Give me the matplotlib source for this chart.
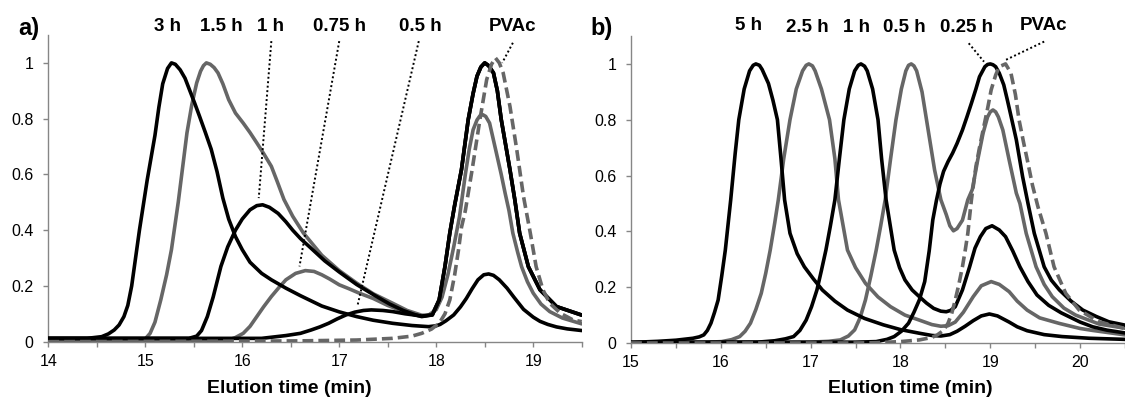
import matplotlib
matplotlib.use("Agg")
import matplotlib.pyplot as plt
from matplotlib.ticker import MultipleLocator, FixedLocator, FixedFormatter

plt.rcParams['font.family'] = ['Liberation Sans', 'DejaVu Sans']

BLACK = '#000000'
GREY = '#666666'
AXCOL = '#868686'
LW = 2.6

# ---------------- panel a) data (elution time in min, normalised signal) ----------------
a_3h_x = [14.0, 14.4, 14.55, 14.62, 14.68, 14.73, 14.78, 14.82, 14.86, 14.9, 14.94, 14.98, 15.02,
          15.06, 15.1, 15.14, 15.18, 15.23, 15.27, 15.31, 15.36, 15.41, 15.46, 15.51, 15.56, 15.62,
          15.68, 15.74, 15.8, 15.86, 15.93, 16.0, 16.08, 16.2, 16.3, 16.45, 16.6, 16.82, 17.0,
          17.18, 17.35, 17.55, 17.75, 17.92, 18.0, 18.04, 18.1, 18.18, 18.25, 18.31, 18.37, 18.43,
          18.49, 18.54, 18.59, 18.65, 18.73, 18.8, 18.9, 19.0, 19.07, 19.15, 19.24, 19.35, 19.5]
a_3h_y = [0.012, 0.012, 0.018, 0.028, 0.042, 0.06, 0.09, 0.13, 0.2, 0.3, 0.4, 0.49, 0.58,
          0.66, 0.74, 0.84, 0.925, 0.98, 1.0, 0.995, 0.975, 0.945, 0.9, 0.855, 0.808, 0.75,
          0.69, 0.61, 0.515, 0.44, 0.377, 0.33, 0.285, 0.245, 0.222, 0.192, 0.165, 0.128, 0.107,
          0.09, 0.077, 0.066, 0.058, 0.054, 0.057, 0.062, 0.075, 0.096, 0.125, 0.155, 0.19, 0.222,
          0.24, 0.243, 0.238, 0.222, 0.192, 0.16, 0.116, 0.088, 0.073, 0.062, 0.053, 0.046, 0.04]

a_15h_x = [14.0, 14.9, 14.95, 15.0, 15.05, 15.1, 15.16, 15.22, 15.27, 15.34, 15.43, 15.48, 15.53,
           15.57, 15.6, 15.63, 15.67, 15.71, 15.75, 15.8, 15.86, 15.93, 16.01, 16.08, 16.15, 16.22,
           16.3, 16.36, 16.43, 16.52, 16.63, 16.82, 17.0, 17.18, 17.35, 17.55, 17.7, 17.85, 17.92,
           18.0, 18.06, 18.12, 18.18, 18.24, 18.3, 18.34, 18.38, 18.42, 18.45, 18.48, 18.51, 18.55,
           18.62, 18.67, 18.71, 18.75, 18.79, 18.84, 18.88, 18.94, 19.0, 19.08, 19.17, 19.3, 19.5]
a_15h_y = [0.003, 0.003, 0.005, 0.01, 0.03, 0.07, 0.15, 0.24, 0.33, 0.5, 0.749, 0.85, 0.928,
           0.97, 0.99, 1.0, 0.995, 0.983, 0.964, 0.925, 0.868, 0.82, 0.784, 0.75, 0.713, 0.675,
           0.629, 0.575, 0.51, 0.45, 0.39, 0.31, 0.255, 0.21, 0.172, 0.138, 0.112, 0.095, 0.095,
           0.115, 0.16, 0.24, 0.34, 0.449, 0.6, 0.69, 0.76, 0.795, 0.81, 0.814, 0.808, 0.784,
           0.677, 0.6, 0.533, 0.47, 0.389, 0.32, 0.269, 0.215, 0.174, 0.135, 0.108, 0.085, 0.064]

a_1h_x = [14.0, 15.45, 15.53, 15.58, 15.64, 15.7, 15.78, 15.85, 15.93, 16.0, 16.08, 16.15, 16.21,
          16.28, 16.37, 16.45, 16.52, 16.6, 16.71, 16.85, 17.0, 17.18, 17.37, 17.52, 17.66, 17.78,
          17.85, 17.96, 18.03, 18.09, 18.14, 18.19, 18.26, 18.33, 18.38, 18.42, 18.46, 18.5, 18.54,
          18.59, 18.63, 18.67, 18.76, 18.81, 18.86, 18.95, 19.07, 19.24, 19.5]
a_1h_y = [0.012, 0.012, 0.02, 0.04, 0.09, 0.16, 0.27, 0.34, 0.4, 0.44, 0.473, 0.488, 0.491,
          0.482, 0.46, 0.43, 0.4, 0.37, 0.335, 0.29, 0.25, 0.205, 0.165, 0.135, 0.112, 0.097,
          0.09, 0.096, 0.15, 0.27, 0.39, 0.49, 0.617, 0.797, 0.89, 0.952, 0.985, 1.0, 0.99,
          0.964, 0.9, 0.797, 0.617, 0.509, 0.389, 0.269, 0.186, 0.126, 0.095]

a_075h_x = [14.0, 15.8, 15.86, 15.93, 16.01, 16.08, 16.15, 16.22, 16.3, 16.38, 16.45, 16.55, 16.65,
            16.74, 16.82, 16.9, 17.0, 17.1, 17.2, 17.35, 17.5, 17.65, 17.78, 17.88, 17.96, 18.03,
            18.09, 18.14, 18.19, 18.26, 18.33, 18.38, 18.42, 18.46, 18.5, 18.54, 18.59, 18.63,
            18.67, 18.76, 18.81, 18.86, 18.95, 19.07, 19.24, 19.5]
a_075h_y = [0.003, 0.003, 0.006, 0.015, 0.03, 0.055, 0.09, 0.125, 0.162, 0.195, 0.222, 0.245, 0.255,
            0.252, 0.24, 0.225, 0.204, 0.19, 0.175, 0.155, 0.13, 0.11, 0.095, 0.092, 0.1, 0.15,
            0.27, 0.39, 0.49, 0.617, 0.797, 0.89, 0.952, 0.985, 1.0, 0.99, 0.964, 0.9,
            0.797, 0.617, 0.509, 0.389, 0.269, 0.186, 0.126, 0.095]

a_05h_x = [14.0, 16.2, 16.3, 16.45, 16.6, 16.71, 16.8, 16.89, 16.98, 17.07, 17.16, 17.25, 17.33,
           17.45, 17.55, 17.68, 17.77, 17.85, 17.96, 18.03, 18.09, 18.14, 18.19, 18.26, 18.33,
           18.38, 18.42, 18.46, 18.5, 18.54, 18.59, 18.63, 18.67, 18.76, 18.81, 18.86, 18.95,
           19.07, 19.24, 19.5]
a_05h_y = [0.012, 0.012, 0.016, 0.022, 0.03, 0.042, 0.053, 0.066, 0.082, 0.096, 0.106, 0.112, 0.114,
           0.112, 0.108, 0.1, 0.096, 0.092, 0.096, 0.15, 0.27, 0.39, 0.49, 0.617, 0.797,
           0.89, 0.952, 0.985, 1.0, 0.99, 0.964, 0.9, 0.797, 0.617, 0.509, 0.389, 0.269,
           0.186, 0.126, 0.096]

a_pvac_x = [14.0, 16.0, 16.6, 17.18, 17.55, 17.75, 17.85, 17.95, 18.03, 18.09, 18.14, 18.19, 18.23,
            18.26, 18.3, 18.37, 18.45, 18.52, 18.57, 18.61, 18.65, 18.69, 18.76, 18.83, 18.9,
            18.97, 19.03, 19.1, 19.17, 19.28, 19.41, 19.5]
a_pvac_y = [0.0, 0.002, 0.003, 0.006, 0.012, 0.02, 0.03, 0.045, 0.066, 0.1, 0.15, 0.24, 0.33,
            0.41, 0.47, 0.617, 0.796, 0.94, 0.995, 1.018, 1.0, 0.964, 0.844, 0.689, 0.52,
            0.389, 0.269, 0.186, 0.138, 0.102, 0.078, 0.072]

# ---------------- panel b) data ----------------
b_5h_x = [15.0, 15.3, 15.5, 15.69, 15.76, 15.81, 15.85, 15.89, 15.93, 15.97, 16.01, 16.05, 16.11,
          16.16, 16.2, 16.26, 16.32, 16.36, 16.39, 16.43, 16.46, 16.53, 16.58, 16.63, 16.67, 16.71,
          16.77, 16.85, 16.93, 17.03, 17.13, 17.27, 17.41, 17.6, 17.81, 18.0, 18.21, 18.35, 18.45,
          18.55, 18.63, 18.72, 18.81, 18.9, 18.99, 19.08, 19.21, 19.3, 19.41, 19.6, 19.8, 20.1, 20.5]
b_5h_y = [0.002, 0.006, 0.01, 0.017, 0.022, 0.029, 0.045, 0.071, 0.11, 0.154, 0.24, 0.333, 0.513,
          0.68, 0.8, 0.91, 0.975, 0.995, 1.0, 0.995, 0.98, 0.93, 0.87, 0.8, 0.66, 0.513,
          0.393, 0.32, 0.273, 0.23, 0.19, 0.15, 0.118, 0.088, 0.065, 0.048, 0.035, 0.027, 0.025,
          0.03, 0.042, 0.06, 0.08, 0.097, 0.104, 0.097, 0.075, 0.058, 0.044, 0.03, 0.023, 0.017, 0.013]

b_25h_x = [15.0, 15.8, 16.01, 16.12, 16.21, 16.27, 16.33, 16.39, 16.45, 16.5, 16.55, 16.6, 16.64,
           16.7, 16.77, 16.84, 16.91, 16.95, 16.98, 17.02, 17.05, 17.12, 17.21, 17.27, 17.31, 17.41,
           17.5, 17.61, 17.75, 17.89, 18.05, 18.21, 18.35, 18.45, 18.53, 18.61, 18.7, 18.81, 18.9,
           19.01, 19.1, 19.21, 19.3, 19.41, 19.55, 19.77, 20.0, 20.14, 20.5]
b_25h_y = [0.0, 0.002, 0.005, 0.012, 0.023, 0.042, 0.071, 0.12, 0.178, 0.25, 0.333, 0.43, 0.513,
           0.66, 0.8, 0.91, 0.975, 0.995, 1.0, 0.993, 0.975, 0.91, 0.8, 0.66, 0.513, 0.333,
           0.27, 0.214, 0.165, 0.13, 0.1, 0.082, 0.066, 0.06, 0.062, 0.075, 0.11, 0.166, 0.205,
           0.22, 0.21, 0.184, 0.15, 0.118, 0.09, 0.07, 0.052, 0.045, 0.029]

b_1h_x = [15.0, 16.41, 16.6, 16.72, 16.81, 16.88, 16.95, 17.01, 17.07, 17.12, 17.17, 17.22, 17.27,
          17.32, 17.37, 17.43, 17.49, 17.53, 17.56, 17.6, 17.63, 17.69, 17.75, 17.79, 17.84, 17.93,
          17.99, 18.05, 18.13, 18.21, 18.29, 18.37, 18.45, 18.51, 18.56, 18.61, 18.69, 18.77, 18.83,
          18.89, 18.95, 19.02, 19.1, 19.17, 19.25, 19.33, 19.42, 19.52, 19.65, 19.79, 20.0, 20.14,
          20.3, 20.5]
b_1h_y = [0.002, 0.003, 0.008, 0.015, 0.023, 0.045, 0.082, 0.13, 0.19, 0.26, 0.333, 0.42, 0.513,
          0.66, 0.8, 0.91, 0.975, 0.995, 1.0, 0.992, 0.975, 0.91, 0.8, 0.66, 0.513, 0.333,
          0.27, 0.226, 0.19, 0.166, 0.143, 0.124, 0.114, 0.112, 0.117, 0.13, 0.19, 0.273, 0.34,
          0.381, 0.41, 0.42, 0.405, 0.381, 0.33, 0.273, 0.22, 0.172, 0.135, 0.108, 0.075, 0.058,
          0.046, 0.036]

b_05h_x = [15.0, 17.0, 17.2, 17.33, 17.42, 17.49, 17.55, 17.61, 17.67, 17.73, 17.78, 17.83, 17.89,
           17.95, 18.01, 18.06, 18.09, 18.12, 18.15, 18.18, 18.24, 18.29, 18.38, 18.45, 18.51,
           18.55, 18.59, 18.63, 18.69, 18.75, 18.8, 18.86, 18.92, 18.97, 19.0, 19.03, 19.06, 19.09,
           19.14, 19.21, 19.29, 19.33, 19.4, 19.51, 19.6, 19.69, 19.82, 19.95, 20.21, 20.5]
b_05h_y = [0.0, 0.003, 0.006, 0.011, 0.025, 0.047, 0.09, 0.154, 0.24, 0.333, 0.42, 0.513, 0.66,
           0.8, 0.91, 0.975, 0.995, 1.0, 0.993, 0.975, 0.9, 0.8, 0.62, 0.513, 0.46,
           0.42, 0.402, 0.41, 0.44, 0.513, 0.55, 0.656, 0.752, 0.81, 0.828, 0.835, 0.828, 0.81,
           0.763, 0.656, 0.537, 0.5, 0.393, 0.273, 0.21, 0.166, 0.125, 0.1, 0.068, 0.053]

b_025h_x = [15.0, 17.5, 17.73, 17.85, 17.93, 18.01, 18.09, 18.15, 18.21, 18.27, 18.32, 18.36, 18.4,
            18.44, 18.48, 18.53, 18.58, 18.63, 18.69, 18.74, 18.79, 18.84, 18.88, 18.94, 18.97,
            19.0, 19.03, 19.06, 19.1, 19.15, 19.19, 19.24, 19.29, 19.36, 19.42, 19.49, 19.6, 19.68,
            19.77, 19.9, 20.03, 20.18, 20.32, 20.5]
b_025h_y = [0.002, 0.003, 0.005, 0.013, 0.023, 0.042, 0.071, 0.11, 0.154, 0.22, 0.33, 0.441, 0.51,
            0.57, 0.615, 0.65, 0.68, 0.715, 0.763, 0.81, 0.859, 0.91, 0.954, 0.99, 0.998,
            1.0, 0.997, 0.99, 0.967, 0.925, 0.871, 0.8, 0.728, 0.596, 0.5, 0.393, 0.273, 0.225,
            0.19, 0.15, 0.118, 0.095, 0.076, 0.064]

b_pvac_x = [15.0, 17.5, 17.73, 18.0, 18.21, 18.35, 18.41, 18.48, 18.53, 18.57, 18.61, 18.65, 18.69,
            18.72, 18.75, 18.79, 18.84, 18.88, 18.92, 18.97, 19.01, 19.06, 19.1, 19.17, 19.23,
            19.28, 19.32, 19.37, 19.42, 19.47, 19.53, 19.62, 19.71, 19.84, 19.99, 20.21, 20.5]
b_pvac_y = [0.0, 0.0, 0.001, 0.005, 0.011, 0.02, 0.029, 0.045, 0.071, 0.105, 0.154, 0.21, 0.273,
            0.33, 0.393, 0.513, 0.632, 0.7, 0.763, 0.84, 0.907, 0.96, 0.99, 1.0, 0.967,
            0.89, 0.8, 0.72, 0.644, 0.565, 0.489, 0.393, 0.273, 0.178, 0.118, 0.076, 0.052]

# labels above the peaks: (text, x, y) and dotted leaders (x0, y0, x1, y1)
a_labels = [('3 h', 15.23, 1.13), ('1.5 h', 15.78, 1.13), ('1 h', 16.29, 1.13),
            ('0.75 h', 17.0, 1.13), ('0.5 h', 17.84, 1.13), ('PVAc', 18.79, 1.13)]
a_leaders = [(16.30, 1.078, 16.17, 0.515), (17.0, 1.078, 16.59, 0.27),
             (17.82, 1.078, 17.19, 0.132), (18.79, 1.072, 18.68, 1.0)]
b_labels = [('5 h', 16.31, 1.138), ('2.5 h', 16.96, 1.13), ('1 h', 17.51, 1.13),
            ('0.5 h', 18.04, 1.13), ('0.25 h', 18.73, 1.13), ('PVAc', 19.59, 1.138)]
b_leaders = [(18.76, 1.074, 18.93, 1.008), (19.6, 1.08, 19.17, 1.014)]

y_ticks = [0, 0.2, 0.4, 0.6, 0.8, 1.0]
y_ticklabels = ['0', '0.2', '0.4', '0.6', '0.8', '1']

fig = plt.figure(figsize=(11.25, 4.05), dpi=100)
ax_a = fig.add_axes([0.0429, 0.1563, 0.4742, 0.7573])
ax_b = fig.add_axes([0.5609, 0.1531, 0.4391, 0.7580])


def style_axis(ax, xmin, xmax):
    ax.set_xlim(xmin, xmax)
    ax.set_ylim(0, 1.1)
    for side in ('top', 'right'):
        ax.spines[side].set_visible(False)
    for side in ('left', 'bottom'):
        ax.spines[side].set_color(AXCOL)
        ax.spines[side].set_linewidth(1.0)
    ax.xaxis.set_major_locator(MultipleLocator(1))
    ax.xaxis.set_minor_locator(MultipleLocator(0.5))
    ax.yaxis.set_major_locator(FixedLocator(y_ticks))
    ax.yaxis.set_major_formatter(FixedFormatter(y_ticklabels))
    ax.tick_params(axis='both', which='both', direction='out', length=3.5, width=1.0,
                   color=AXCOL, labelsize=11.5, labelcolor='black')
    ax.tick_params(axis='x', which='major', pad=5)
    ax.tick_params(axis='y', which='major', pad=7)
    ax.set_xlabel('Elution time (min)', fontsize=14, fontweight='bold')
    ax.xaxis.label.set_va('center')


style_axis(ax_a, 14, 19.5)
style_axis(ax_b, 15, 20.5)
ax_a.xaxis.set_label_coords(0.451, -0.151)
ax_b.xaxis.set_label_coords(0.565, -0.147)

line_kw = dict(lw=LW, solid_capstyle='round', solid_joinstyle='round')
dash_kw = dict(lw=LW, linestyle=(0, (3, 1.4)), dash_joinstyle='round', zorder=4)

# panel a curves (grey first, black on top, dashed PVAc last)
ax_a.plot(a_075h_x, a_075h_y, color=GREY, zorder=2, **line_kw)
ax_a.plot(a_15h_x, a_15h_y, color=GREY, zorder=2, **line_kw)
ax_a.plot(a_3h_x, a_3h_y, color=BLACK, zorder=3, **line_kw)
ax_a.plot(a_05h_x, a_05h_y, color=BLACK, zorder=3, **line_kw)
ax_a.plot(a_1h_x, a_1h_y, color=BLACK, zorder=3, **line_kw)
ax_a.plot(a_pvac_x, a_pvac_y, color=GREY, **dash_kw)

# panel b curves
ax_b.plot(b_25h_x, b_25h_y, color=GREY, zorder=2, **line_kw)
ax_b.plot(b_05h_x, b_05h_y, color=GREY, zorder=2, **line_kw)
ax_b.plot(b_5h_x, b_5h_y, color=BLACK, zorder=3, **line_kw)
ax_b.plot(b_1h_x, b_1h_y, color=BLACK, zorder=3, **line_kw)
ax_b.plot(b_025h_x, b_025h_y, color=BLACK, zorder=3, **line_kw)
ax_b.plot(b_pvac_x, b_pvac_y, color=GREY, **dash_kw)

for ax, labels, leaders in ((ax_a, a_labels, a_leaders), (ax_b, b_labels, b_leaders)):
    for txt, x, y in labels:
        ax.text(x, y, txt, ha='center', va='center', fontsize=13.5, fontweight='bold',
                clip_on=False)
    for x0, y0, x1, y1 in leaders:
        ax.plot([x0, x1], [y0, y1], color=BLACK, lw=1.4, linestyle=(0, (1, 1.3)),
                clip_on=False, zorder=5)

fig.text(18 / 1125, 1 - 29 / 405, 'a)', ha='left', va='center', fontsize=17, fontweight='bold')
fig.text(590.6 / 1125, 1 - 28 / 405, 'b)', ha='left', va='center', fontsize=17, fontweight='bold')

fig.savefig('out.png', dpi=100)
